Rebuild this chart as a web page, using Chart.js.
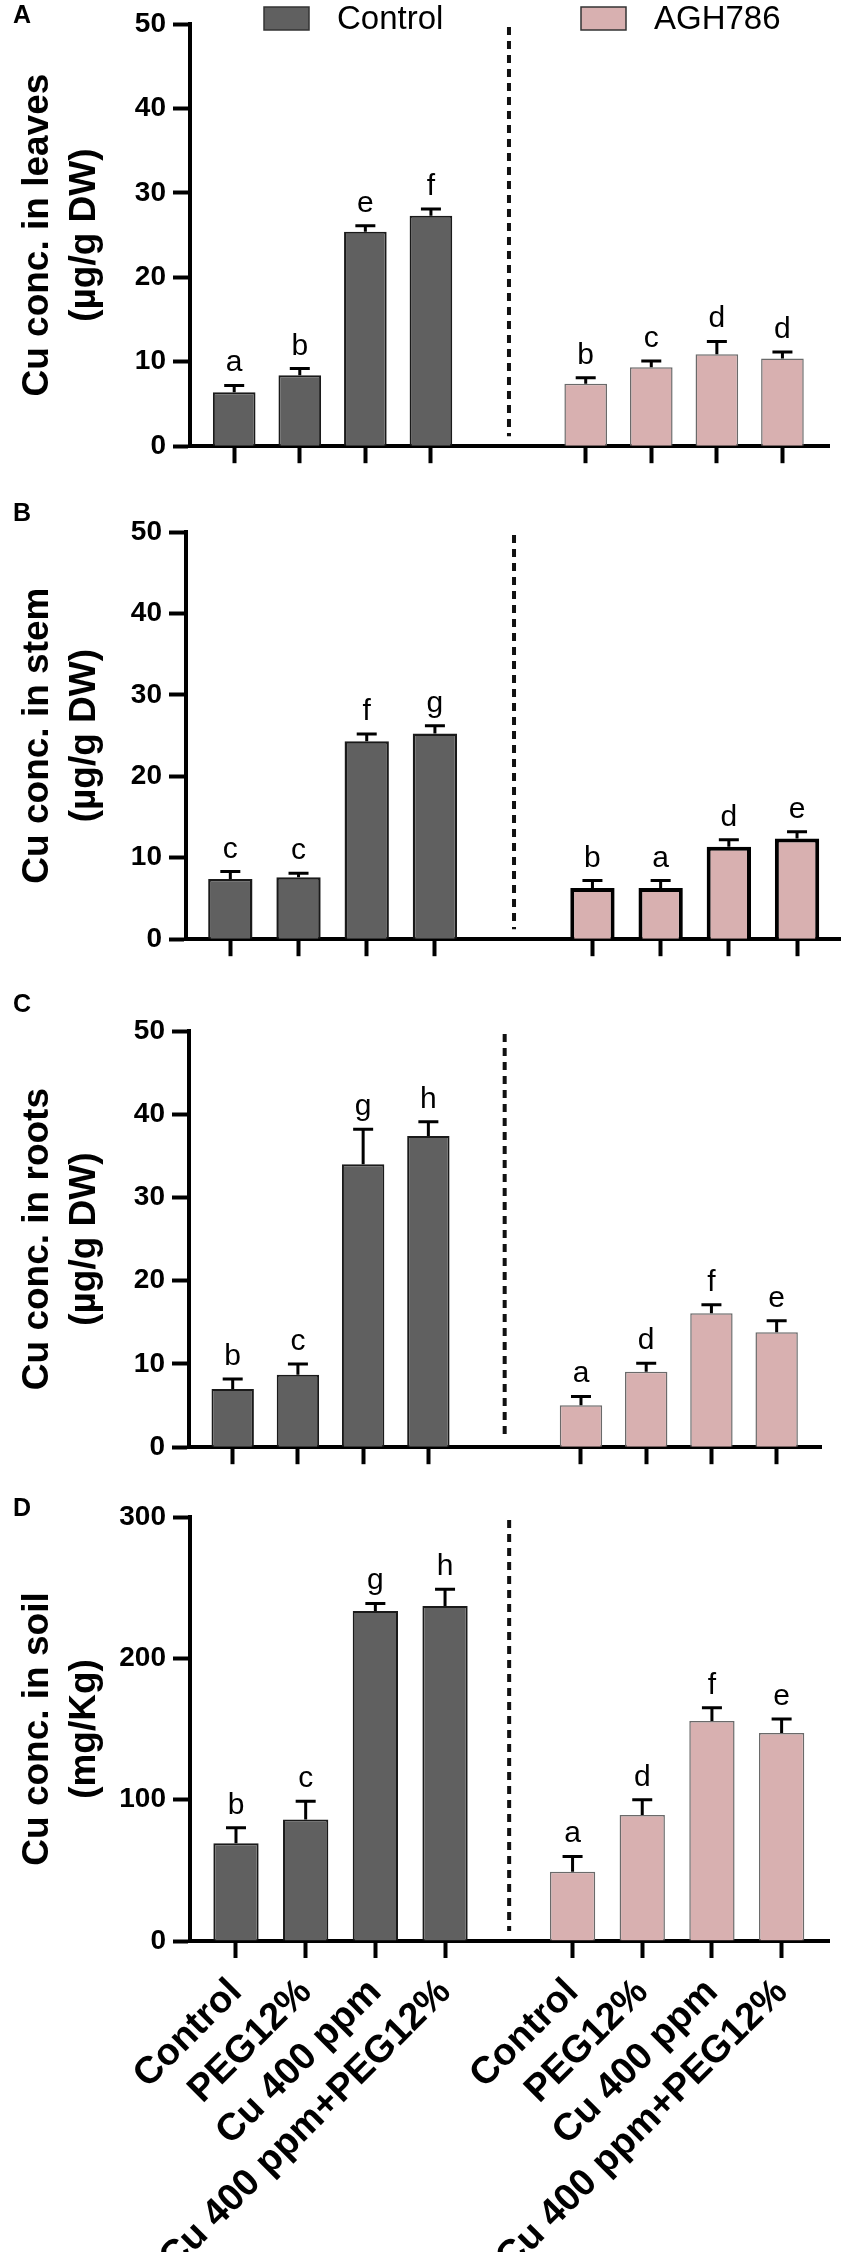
<!DOCTYPE html>
<html>
<head>
<meta charset="utf-8">
<script src="https://cdn.jsdelivr.net/npm/chart.js@4.4.0/dist/chart.umd.min.js"></script>
<style>
  html, body { margin: 0; padding: 0; background: #fff; }
  body { width: 844px; height: 2252px; position: relative; overflow: hidden; }
  .panel { position: absolute; left: 0; width: 844px; }
</style>
</head>
<body>
<script>
const treatments = ["Control", "PEG12%", "Cu 400 ppm", "Cu 400 ppm+PEG12%"]
const groups = ["Control", "AGH786"]

const leavesControl = [6.4, 8.4, 25.4, 27.3]
const leavesControlSd = [0.8, 0.8, 0.7, 0.8]
const leavesAgh = [7.4, 9.35, 10.9, 10.4]
const leavesAghSd = [0.7, 0.75, 1.5, 0.75]
const leavesLetters = ["a", "b", "e", "f", "b", "c", "d", "d"]

const stemControl = [7.4, 7.6, 24.3, 25.25]
const stemControlSd = [0.9, 0.5, 0.9, 0.95]
const stemAgh = [6.3, 6.3, 11.35, 12.35]
const stemAghSd = [0.9, 0.9, 0.85, 0.85]
const stemLetters = ["c", "c", "f", "g", "b", "a", "d", "e"]

const rootsControl = [7.0, 8.7, 34.0, 37.4]
const rootsControlSd = [1.2, 1.3, 4.2, 1.7]
const rootsAgh = [5.05, 9.05, 16.1, 13.8]
const rootsAghSd = [1.05, 1.05, 1.0, 1.4]
const rootsLetters = ["b", "c", "g", "h", "a", "d", "f", "e"]

const soilControl = [69.2, 85.9, 233.5, 237.1]
const soilControlSd = [10.9, 13.0, 5.3, 11.8]
const soilAgh = [49.0, 89.2, 155.7, 147.1]
const soilAghSd = [10.8, 10.8, 9.4, 10.0]
const soilLetters = ["b", "c", "g", "h", "a", "d", "f", "e"]

const FONT = "'Liberation Sans', Arial, sans-serif"
const controlColor = "#606060"
const aghColor = "#d8b0b0"

const panels = [
  { panel: "A", title: ["Cu conc. in leaves", "(µg/g DW)"], control: leavesControl, controlSd: leavesControlSd, agh: leavesAgh, aghSd: leavesAghSd, letters: leavesLetters, yMax: 50, yStep: 10 },
  { panel: "B", title: ["Cu conc. in stem", "(µg/g DW)"], control: stemControl, controlSd: stemControlSd, agh: stemAgh, aghSd: stemAghSd, letters: stemLetters, yMax: 50, yStep: 10 },
  { panel: "C", title: ["Cu conc. in roots", "(µg/g DW)"], control: rootsControl, controlSd: rootsControlSd, agh: rootsAgh, aghSd: rootsAghSd, letters: rootsLetters, yMax: 50, yStep: 10 },
  { panel: "D", title: ["Cu conc. in soil", "(mg/Kg)"], control: soilControl, controlSd: soilControlSd, agh: soilAgh, aghSd: soilAghSd, letters: soilLetters, yMax: 300, yStep: 100 }
]

// where each panel sits on the page (pixels) and how the x axis is spread out
const frames = [
  { canvasTop: 0, axisTop: 24, axisZero: 450, axisLeft: 190, axisRight: 829, xMin: -0.674, xMax: 9.07, shift: 5.36, dash: 4.19, letterY: 4, outline: [2, 1.5], legend: true },
  { canvasTop: 470, axisTop: 532, axisZero: 943, axisLeft: 186, axisRight: 840, xMin: -0.65, xMax: 8.94, shift: 5.31, dash: 4.16, letterY: 502, outline: [2.5, 4] },
  { canvasTop: 963, axisTop: 1031, axisZero: 1451, axisLeft: 189, axisRight: 821, xMin: -0.67, xMax: 9.02, shift: 5.34, dash: 4.17, letterY: 993, outline: [2, 1.5] },
  { canvasTop: 1471, axisTop: 1517, axisZero: 1941, axisLeft: 190, axisRight: 829, xMin: -0.66, xMax: 8.51, shift: 4.83, dash: 3.92, letterY: 1497, outline: [2, 1.5], labels: true }
]

const panelMarks = {
  id: "panelMarks",
  afterDatasetsDraw(chart, args, opts) {
    const ctx = chart.ctx
    const xScale = chart.scales.x
    const yScale = chart.scales.y
    const area = chart.chartArea
    ctx.save()

    // dashed separator between the two groups
    const dx = xScale.getPixelForValue(opts.dash)
    ctx.strokeStyle = "#111"
    ctx.lineWidth = 4
    ctx.setLineDash([8, 6])
    ctx.beginPath()
    ctx.moveTo(dx, area.top + 3)
    ctx.lineTo(dx, area.bottom - 10)
    ctx.stroke()
    ctx.setLineDash([])

    // upper error bars + significance letters
    chart.data.datasets.forEach((ds, d) => {
      const meta = chart.getDatasetMeta(d)
      meta.data.forEach((bar, k) => {
        const top = yScale.getPixelForValue(ds.data[k].y + opts.sd[d][k])
        ctx.strokeStyle = "#000"
        ctx.lineWidth = 3
        ctx.beginPath()
        ctx.moveTo(bar.x, bar.y)
        ctx.lineTo(bar.x, top)
        ctx.moveTo(bar.x - 10, top)
        ctx.lineTo(bar.x + 10, top)
        ctx.stroke()
        ctx.fillStyle = "#000"
        ctx.font = "30px " + FONT
        ctx.textAlign = "center"
        ctx.textBaseline = "alphabetic"
        ctx.fillText(opts.letters[d * 4 + k], bar.x, top - 14)
      })
    })

    // panel letter
    ctx.fillStyle = "#000"
    ctx.font = "bold 25px " + FONT
    ctx.textAlign = "left"
    ctx.textBaseline = "top"
    ctx.fillText(opts.panel, 13, opts.panelY)

    // legend on the first panel
    if (opts.legend) {
      const boxX = [264, 581]
      chart.data.datasets.forEach((ds, d) => {
        ctx.fillStyle = ds.backgroundColor
        ctx.fillRect(boxX[d], 7, 45, 23)
        ctx.strokeStyle = "#333"
        ctx.lineWidth = 1.5
        ctx.strokeRect(boxX[d], 7, 45, 23)
        ctx.fillStyle = "#000"
        ctx.font = "33px " + FONT
        ctx.textAlign = "left"
        ctx.textBaseline = "middle"
        ctx.fillText(ds.label, boxX[d] + 73, 20)
      })
    }
    ctx.restore()
  }
}

function buildPanel(p, frame) {
  const bottom = frame.labels ? 2252 : frame.axisZero + 20
  const height = bottom - frame.canvasTop
  const holder = document.createElement("div")
  holder.className = "panel"
  holder.style.top = frame.canvasTop + "px"
  holder.style.height = height + "px"
  const canvas = document.createElement("canvas")
  canvas.width = 844
  canvas.height = height
  canvas.style.width = "844px"
  canvas.style.height = height + "px"
  holder.appendChild(canvas)
  document.body.appendChild(holder)

  const tickPositions = treatments.map((t, k) => k).concat(treatments.map((t, k) => k + frame.shift))

  new Chart(canvas.getContext("2d"), {
    type: "bar",
    data: {
      datasets: [{
        label: groups[0],
        data: p.control.map((v, k) => ({ x: k, y: v })),
        backgroundColor: controlColor,
        borderColor: "#1a1a1a",
        borderWidth: frame.outline[0],
        grouped: false,
        barPercentage: 0.65,
        categoryPercentage: 1
      }, {
        label: groups[1],
        data: p.agh.map((v, k) => ({ x: k + frame.shift, y: v })),
        backgroundColor: aghColor,
        borderColor: frame.outline[1] > 3 ? "#000" : "#6a6a6a",
        borderWidth: frame.outline[1],
        grouped: false,
        barPercentage: 0.65,
        categoryPercentage: 1
      }]
    },
    options: {
      responsive: false,
      animation: false,
      events: [],
      layout: {
        padding: { top: frame.axisTop - frame.canvasTop, right: 844 - frame.axisRight, left: 0, bottom: 0 }
      },
      plugins: {
        legend: { display: false },
        tooltip: { enabled: false },
        panelMarks: {
          dash: frame.dash,
          sd: [p.controlSd, p.aghSd],
          letters: p.letters,
          panel: p.panel,
          panelY: frame.letterY - frame.canvasTop,
          legend: !!frame.legend
        }
      },
      scales: {
        x: {
          type: "linear",
          min: frame.xMin,
          max: frame.xMax,
          offset: false,
          afterBuildTicks: (scale) => { scale.ticks = tickPositions.map(v => ({ value: v })) },
          afterFit: (scale) => { scale.height = frame.labels ? 2252 - frame.axisZero : 20 },
          border: { display: true, width: 4, color: "#000" },
          grid: { drawOnChartArea: false, drawTicks: true, tickLength: 17, tickWidth: 4, color: "#000", offset: false },
          ticks: {
            display: !!frame.labels,
            autoSkip: false,
            maxRotation: 45,
            minRotation: 45,
            padding: 12,
            color: "#000",
            font: { family: FONT, size: 38, weight: "bold" },
            callback: (value, index) => treatments[index % 4]
          }
        },
        y: {
          min: 0,
          max: p.yMax,
          afterFit: (scale) => { scale.width = frame.axisLeft },
          border: { display: true, width: 4, color: "#000" },
          grid: { drawOnChartArea: false, drawTicks: true, tickLength: 17, tickWidth: 4, color: "#000" },
          ticks: {
            stepSize: p.yStep,
            padding: 7,
            color: "#000",
            font: { family: FONT, size: 28, weight: "bold" }
          },
          title: {
            display: true,
            text: p.title,
            color: "#000",
            padding: { top: 15, bottom: 0 },
            font: { family: FONT, size: 37, weight: "bold", lineHeight: 1.25 }
          }
        }
      }
    },
    plugins: [panelMarks]
  })
}

panels.forEach((p, i) => buildPanel(p, frames[i]))
</script>
</body>
</html>
